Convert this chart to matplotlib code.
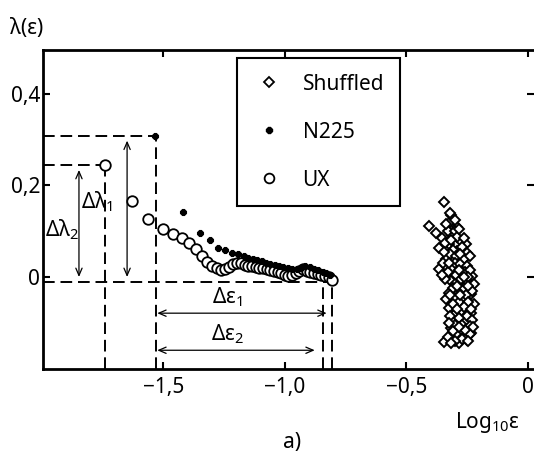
import matplotlib
matplotlib.use("Agg")
import matplotlib.pyplot as plt
from matplotlib.lines import Line2D

plt.rcParams['font.family'] = ['Noto Sans', 'DejaVu Sans']
plt.rcParams['mathtext.fontset'] = 'custom'
plt.rcParams['mathtext.rm'] = 'Noto Sans'
plt.rcParams['font.size'] = 15

# ---------------- data ----------------
ux_x = [-1.740, -1.630, -1.562, -1.503, -1.462, -1.425, -1.393, -1.365, -1.342,
        -1.320, -1.300, -1.280, -1.262, -1.245, -1.228, -1.212, -1.196, -1.180,
        -1.165, -1.150, -1.135, -1.120, -1.105, -1.090, -1.075, -1.060, -1.045,
        -1.030, -1.015, -1.000, -0.985, -0.970, -0.955, -0.940, -0.925, -0.910,
        -0.895, -0.880, -0.865, -0.850, -0.835, -0.820, -0.807]
ux_y = [0.244, 0.167, 0.127, 0.105, 0.095, 0.085, 0.074, 0.062, 0.047,
        0.033, 0.024, 0.019, 0.016, 0.017, 0.022, 0.028, 0.031, 0.030,
        0.027, 0.025, 0.023, 0.022, 0.020, 0.019, 0.017, 0.015, 0.013,
        0.011, 0.008, 0.005, 0.002, 0.004, 0.008, 0.014, 0.017, 0.014,
        0.010, 0.008, 0.006, 0.004, 0.002, 0.001, -0.006]

n225_x = [-1.535, -1.418, -1.348, -1.307, -1.275, -1.246, -1.217, -1.192, -1.170,
          -1.150, -1.132, -1.114, -1.096, -1.078, -1.060, -1.042, -1.024, -1.006,
          -0.988, -0.970, -0.952, -0.934, -0.916, -0.898, -0.880, -0.862, -0.845,
          -0.830, -0.815]
n225_y = [0.308, 0.143, 0.097, 0.081, 0.064, 0.059, 0.053, 0.050, 0.045,
          0.042, 0.040, 0.037, 0.034, 0.031, 0.029, 0.027, 0.024, 0.021,
          0.019, 0.018, 0.017, 0.020, 0.023, 0.021, 0.018, 0.015, 0.012,
          0.009, 0.005]

shuf_x = [-0.344, -0.317, -0.406, -0.324, -0.291, -0.378, -0.352, -0.311, -0.365,
          -0.276, -0.255, -0.324, -0.291, -0.250, -0.337, -0.262, -0.365, -0.311,
          -0.276, -0.230, -0.317, -0.255, -0.221, -0.324, -0.283, -0.235, -0.337,
          -0.270, -0.221, -0.324, -0.276, -0.235, -0.311, -0.255, -0.317, -0.276,
          -0.235, -0.344, -0.283, -0.250,
          -0.300, -0.330, -0.300, -0.340, -0.310, -0.290, -0.270, -0.320, -0.295,
          -0.350, -0.300, -0.280, -0.250, -0.330, -0.295, -0.260, -0.240, -0.340,
          -0.300, -0.275, -0.245, -0.310, -0.265, -0.230, -0.300, -0.255, -0.285,
          -0.310, -0.245, -0.265, -0.300, -0.250, -0.285, -0.230, -0.320, -0.270,
          -0.300, -0.240, -0.295, -0.255, -0.330, -0.270, -0.300, -0.240, -0.310,
          -0.320, -0.335, -0.285, -0.315, -0.265, -0.345, -0.280, -0.240, -0.325,
          -0.265, -0.285, -0.320, -0.245, -0.280, -0.290, -0.235, -0.325, -0.260,
          -0.285, -0.245, -0.315, -0.225, -0.290, -0.355]
shuf_y = [0.163, 0.136, 0.112, 0.119, 0.110, 0.097, 0.086, 0.092, 0.064,
          0.079, 0.072, 0.072, 0.057, 0.053, 0.040, 0.040, 0.018, 0.020,
          0.010, 0.002, -0.009, -0.012, -0.016, -0.034, -0.027, -0.038, -0.049,
          -0.049, -0.060, -0.067, -0.075, -0.078, -0.097, -0.097, -0.111, -0.115,
          -0.122, -0.141, -0.144, -0.137,
          0.125, 0.100, 0.100, 0.075, 0.060, 0.088, 0.065, 0.050, 0.045,
          0.030, 0.030, 0.028, 0.025, 0.010, 0.005, 0.012, 0.015, -0.005,
          -0.015, -0.005, 0.000, -0.025, -0.025, -0.030, -0.045, -0.040, -0.055,
          -0.060, -0.055, -0.065, -0.080, -0.085, -0.090, -0.095, -0.085, -0.105,
          -0.105, -0.108, -0.125, -0.128, -0.130, -0.135, -0.140, -0.125, -0.118,
          0.140, 0.115, 0.105, 0.080, 0.085, 0.055, 0.050, 0.045, 0.030,
          0.000, 0.015, -0.040, -0.020, -0.040, -0.070, -0.070, -0.100, -0.115,
          -0.110, -0.140, -0.145, -0.110, -0.020, 0.005]

series_labels = ["Shuffled", "N225", "UX"]
x_ticks = [-1.5, -1.0, -0.5, 0.0]
x_ticklabels = ["\u22121,5", "\u22121,0", "\u22120,5", "0"]
y_ticks = [0.0, 0.2, 0.4]
y_ticklabels = ["0", "0,2", "0,4"]

# annotation levels
lam_ux0 = ux_y[0]
lam_n0 = n225_y[0]
lam_base = -0.011
eps_ux0 = ux_x[0]
eps_n0 = -1.532
eps_end1 = -0.807
eps_end2 = -0.845

# ---------------- figure ----------------
fig = plt.figure(figsize=(5.34, 4.53), dpi=100)
ax = fig.add_axes([0.0805, 0.1854, 0.9195, 0.7042])
ax.set_xlim(-1.995, 0.025)
ax.set_ylim(-0.201, 0.496)

dash_kw = dict(color='black', lw=1.4, dashes=(6, 3))
# horizontal dashed
ax.plot([-1.995, eps_n0], [lam_n0, lam_n0], **dash_kw)
ax.plot([-1.995, eps_ux0], [lam_ux0, lam_ux0], **dash_kw)
ax.plot([-1.995, eps_end1], [lam_base, lam_base], **dash_kw)
# vertical dashed
ax.plot([eps_ux0, eps_ux0], [-0.201, lam_ux0], **dash_kw)
ax.plot([eps_n0, eps_n0], [-0.201, lam_n0], **dash_kw)
ax.plot([eps_end2, eps_end2], [-0.201, lam_base], **dash_kw)
ax.plot([eps_end1, eps_end1], [-0.201, lam_base], **dash_kw)

# arrows
arr = dict(arrowstyle='<->,head_length=0.35,head_width=0.15', lw=0.9, color='black',
           shrinkA=0, shrinkB=0)
ax.annotate('', xy=(-1.649, 0.298), xytext=(-1.649, 0.000), arrowprops=arr)
ax.annotate('', xy=(-1.847, 0.234), xytext=(-1.847, 0.000), arrowprops=arr)
ax.annotate('', xy=(-1.525, -0.079), xytext=(-0.828, -0.079), arrowprops=arr)
ax.annotate('', xy=(-1.525, -0.160), xytext=(-0.877, -0.160), arrowprops=arr)

ax.text(-1.84, 0.165, 'Δλ$_\\mathregular{1}$', ha='left', va='center', fontsize=15)
ax.text(-1.988, 0.103, 'Δλ$_\\mathregular{2}$', ha='left', va='center', fontsize=15)
ax.text(-1.235, -0.045, 'Δε$_\\mathregular{1}$', ha='center', va='center', fontsize=15)
ax.text(-1.235, -0.125, 'Δε$_\\mathregular{2}$', ha='center', va='center', fontsize=15)

# data
ax.plot(shuf_x, shuf_y, ls='none', marker='D', ms=5.3, mfc='white', mec='black', mew=1.4)
ax.plot(ux_x, ux_y, ls='none', marker='o', ms=7.6, mfc='white', mec='black', mew=1.3)
ax.plot(n225_x, n225_y, ls='none', marker='8', ms=5.3, mfc='black', mec='black', mew=0.8)

# axes styling
for s in ['left', 'bottom', 'top']:
    ax.spines[s].set_linewidth(2.0)
ax.spines['right'].set_visible(False)
ax.set_xticks(x_ticks)
ax.set_xticklabels(x_ticklabels)
ax.set_yticks(y_ticks)
ax.set_yticklabels(y_ticklabels)
ax.tick_params(axis='both', direction='in', length=5, width=1.5, labelsize=15,
               top=True, right=True)
ax.tick_params(axis='x', pad=6)
ax.tick_params(axis='y', pad=2)

# legend
handles = [
    Line2D([], [], ls='none', marker='D', ms=5, mfc='white', mec='black', mew=1.3),
    Line2D([], [], ls='none', marker='8', ms=5, mfc='black', mec='black'),
    Line2D([], [], ls='none', marker='o', ms=7, mfc='white', mec='black', mew=1.3),
]
leg = ax.legend(handles, series_labels, loc='upper left', bbox_to_anchor=(0.395, 0.975),
                fontsize=15, frameon=True, fancybox=False, framealpha=1,
                edgecolor='black', borderpad=0.75, labelspacing=1.3,
                handlelength=1.6, handletextpad=0.8, borderaxespad=0)
leg.get_frame().set_linewidth(1.5)

fig.text(0.019, 0.938, 'λ(ε)', ha='left', va='center', fontsize=15)
fig.text(0.852, 0.068, 'Log$_\\mathregular{10}$ε', ha='left', va='center', fontsize=15)
fig.text(0.53, 0.024, 'a)', ha='left', va='center', fontsize=15)

fig.savefig('out.png', dpi=100)
